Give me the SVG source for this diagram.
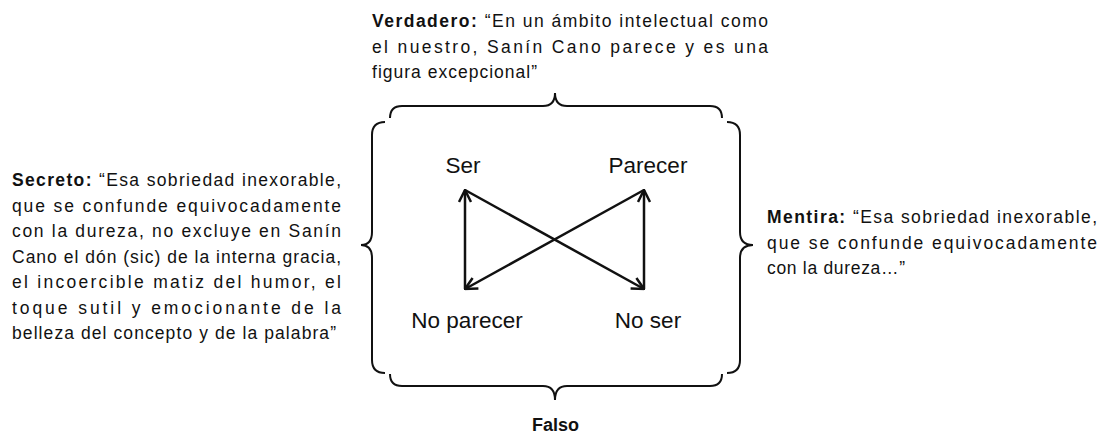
<svg xmlns="http://www.w3.org/2000/svg" width="1102" height="433" viewBox="0 0 1102 433">
<style>
.t{font-family:"Liberation Sans",Arial,sans-serif;font-size:17.5px;fill:#111}
.b{font-weight:bold}
.lbl{font-family:"Liberation Sans",Arial,sans-serif;font-size:22.5px;fill:#111;text-anchor:middle}
.brace{fill:none;stroke:#111;stroke-width:2}
.conn{fill:none;stroke:#111;stroke-width:2.5}
</style>
<defs>
<marker id="arr" viewBox="0 0 14 14" refX="13" refY="7" markerWidth="14" markerHeight="14" markerUnits="userSpaceOnUse" orient="auto">
<path d="M1,1 L13,7 L1,13" fill="none" stroke="#111" stroke-width="2.5"/>
</marker>
</defs>
<rect width="1102" height="433" fill="#fff"/>
<g id="verdadero">
<text class="t" x="372" y="27" textLength="396" lengthAdjust="spacing"><tspan class="b">Verdadero:</tspan> “En un ámbito intelectual como</text>
<text class="t" x="372" y="52.5" textLength="396" lengthAdjust="spacing">el nuestro, Sanín Cano parece y es una</text>
<text class="t" x="372" y="78" textLength="165" lengthAdjust="spacing">figura excepcional”</text>
</g>
<g id="secreto">
<text class="t" x="12" y="186" textLength="329" lengthAdjust="spacing"><tspan class="b">Secreto:</tspan> “Esa sobriedad inexorable,</text>
<text class="t" x="12" y="211.5" textLength="329" lengthAdjust="spacing">que se confunde equivocadamente</text>
<text class="t" x="12" y="237" textLength="329" lengthAdjust="spacing">con la dureza, no excluye en Sanín</text>
<text class="t" x="12" y="262.5" textLength="329" lengthAdjust="spacing">Cano el dón (sic) de la interna gracia,</text>
<text class="t" x="12" y="288" textLength="329" lengthAdjust="spacing">el incoercible matiz del humor, el</text>
<text class="t" x="12" y="313.5" textLength="329" lengthAdjust="spacing">toque sutil y emocionante de la</text>
<text class="t" x="12" y="339" textLength="324" lengthAdjust="spacing">belleza del concepto y de la palabra”</text>
</g>
<g id="mentira">
<text class="t" x="767" y="223" textLength="330" lengthAdjust="spacing"><tspan class="b">Mentira:</tspan> “Esa sobriedad inexorable,</text>
<text class="t" x="767" y="248.5" textLength="330" lengthAdjust="spacing">que se confunde equivocadamente</text>
<text class="t" x="767" y="274" textLength="138" lengthAdjust="spacing">con la dureza…”</text>
</g>
<g id="falso">
<text class="t b" x="555.5" y="431" text-anchor="middle" style="font-size:18px">Falso</text>
</g>
<g id="braces">
<path class="brace" d="M390,118 Q390,106 402,106 L543,106 Q555,106 555,93 Q555,106 567,106 L710,106 Q722,106 722,118"/>
<path class="brace" d="M385,122 Q372,122 372,135 L372,232 Q372,245 361,245 Q372,245 372,258 L372,360 Q372,373 385,373"/>
<path class="brace" d="M727,122 Q740,122 740,135 L740,232 Q740,245 753,245 Q740,245 740,258 L740,360 Q740,373 727,373"/>
<path class="brace" d="M390,374 Q390,386 402,386 L543,386 Q555,386 555,400 Q555,386 567,386 L710,386 Q722,386 722,374"/>
</g>
<g id="node-ser"><text class="lbl" x="463" y="173">Ser</text></g>
<g id="node-parecer"><text class="lbl" x="648" y="173">Parecer</text></g>
<g id="node-noparecer"><text class="lbl" x="467" y="328">No parecer</text></g>
<g id="node-noser"><text class="lbl" x="648" y="328">No ser</text></g>
<g id="connectors">
<line class="conn" x1="465" y1="289" x2="465" y2="190" marker-end="url(#arr)"/>
<line class="conn" x1="644" y1="289" x2="644" y2="190" marker-end="url(#arr)"/>
<line class="conn" x1="465" y1="190" x2="644" y2="289" marker-end="url(#arr)"/>
<line class="conn" x1="644" y1="190" x2="465" y2="289" marker-end="url(#arr)"/>
</g>
</svg>
